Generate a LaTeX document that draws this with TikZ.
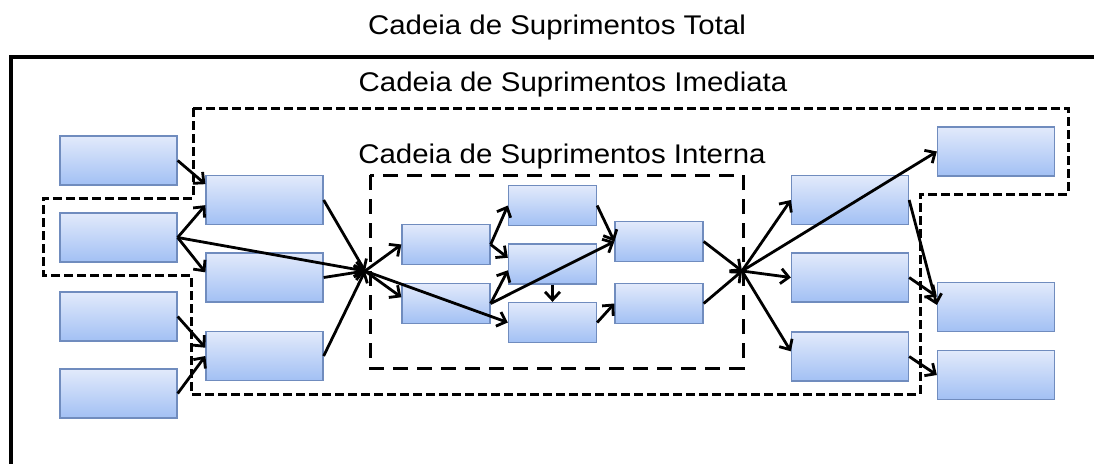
\documentclass[tikz,border=0pt]{standalone}
\usepackage{fontspec}
\setmainfont{Liberation Sans}
\usetikzlibrary{arrows.meta}
\definecolor{elotop}{RGB}{226,234,251}
\definecolor{elobot}{RGB}{162,192,244}
\definecolor{eloline}{RGB}{112,140,190}
\tikzset{
  elo/.style={draw=eloline, line width=1.3pt, top color=elotop, bottom color=elobot,
    minimum width=117pt, minimum height=49pt, inner sep=0pt},
  elomid/.style={elo, minimum width=88pt, minimum height=40pt},
  rotulo/.style={font=\fontsize{27}{30}\selectfont, inner sep=0pt},
  fluxo/.style={->, line width=2.8pt},
}
\begin{document}
\begin{tikzpicture}[x=1pt, y=-1pt, >={Straight Barb[length=8pt, width=15pt]}]
			\useasboundingbox (0,0) rectangle (1094,463);
			
			% cadeia total
			\draw[line width=3.5pt] (11,470) -- (11,57) -- (1100,57);
			\node[rotulo] (total) at (557,28) {\scalebox{1.09}[1]{Cadeia de Suprimentos Total}};
			
			% cadeia imediata
			\draw[line width=3pt, dash pattern=on 9pt off 4pt] (193,108) -- (1068,108) -- (1068,194) -- (920,194) -- (920,394) -- (191,394) -- (191,275) -- (43,275) -- (43,198) -- (193,198) -- cycle;
			\node[rotulo] (imediata) at (573,85) {\scalebox{1.09}[1]{Cadeia de Suprimentos Imediata}};
			
			% cadeia interna
			\draw[line width=3pt, dash pattern=on 15pt off 9pt] (370,175) rectangle (743,368);
			\node[rotulo] (interna) at (562,157) {\scalebox{1.09}[1]{Cadeia de Suprimentos Interna}};
			
			% fornecedores
			\node[elo] (A1) at (118.5,160.5) {};
			\node[elo] (A2) at (118.5,237.5) {};
			\node[elo] (A3) at (118.5,316.5) {};
			\node[elo] (A4) at (118.5,393.5) {};
			\node[elo] (B1) at (264.5,200) {};
			\node[elo] (B2) at (264.5,277.5) {};
			\node[elo] (B3) at (264.5,356) {};
			
			% empresa
			\node[elomid] (C1) at (446,244.5) {};
			\node[elomid] (C2) at (446,303.5) {};
			\node[elomid] (D1) at (552.5,205.5) {};
			\node[elomid] (D2) at (552.5,264) {};
			\node[elomid] (D3) at (552.5,322.5) {};
			\node[elomid] (E1) at (659,241.5) {};
			\node[elomid] (E2) at (659,303.5) {};
			
			% clientes
			\node[elo] (F1) at (850,200) {};
			\node[elo] (F2) at (850,277.5) {};
			\node[elo] (F3) at (850,356.5) {};
			\node[elo] (G1) at (996,151.5) {};
			\node[elo] (G2) at (996,307) {};
			\node[elo] (G3) at (996,375) {};
			
			\coordinate (hubE) at (365,271);
			\coordinate (hubS) at (742,271);
			
			\draw[fluxo] (A1.east) -- (B1.165);
			\draw[fluxo] (A2.east) -- (B1.185);
			\draw[fluxo] (A2.east) -- (B2.175);
			\draw[fluxo] (A2.east) -- (hubE);
			\draw[fluxo] (A3.east) -- (B3.172);
			\draw[fluxo] (A4.east) -- (B3.west);
			\draw[fluxo] (B1.east) -- (hubE);
			\draw[fluxo] (B2.east) -- (hubE);
			\draw[fluxo] (B3.east) -- (hubE);
			
			\draw[fluxo] (hubE) -- (C1.west);
			\draw[fluxo] (hubE) -- (C2.172);
			\draw[fluxo] (hubE) -- (D3.west);
			\draw[fluxo] (C1.east) -- (D1.west);
			\draw[fluxo] (C1.east) -- (D2.172);
			\draw[fluxo] (C2.east) -- (D2.188);
			\draw[fluxo] (C2.east) -- (E1.west);
			\draw[fluxo] (D2.south) -- (D3.north);
			\draw[fluxo] (D1.east) -- (E1.west);
			\draw[fluxo] (D3.east) -- (E2.west);
			\draw[fluxo] (E1.east) -- (hubS);
			\draw[fluxo] (E2.east) -- (hubS);
			
			\draw[fluxo] (hubS) -- (F1.west);
			\draw[fluxo] (hubS) -- (G1.west);
			\draw[fluxo] (hubS) -- (F2.west);
			\draw[fluxo] (hubS) -- (F3.175);
			\draw[fluxo] (F1.east) -- (G2.178);
			\draw[fluxo] (F2.east) -- (G2.170);
			\draw[fluxo] (F3.east) -- (G3.west);
			
		\end{tikzpicture}
\end{document}
